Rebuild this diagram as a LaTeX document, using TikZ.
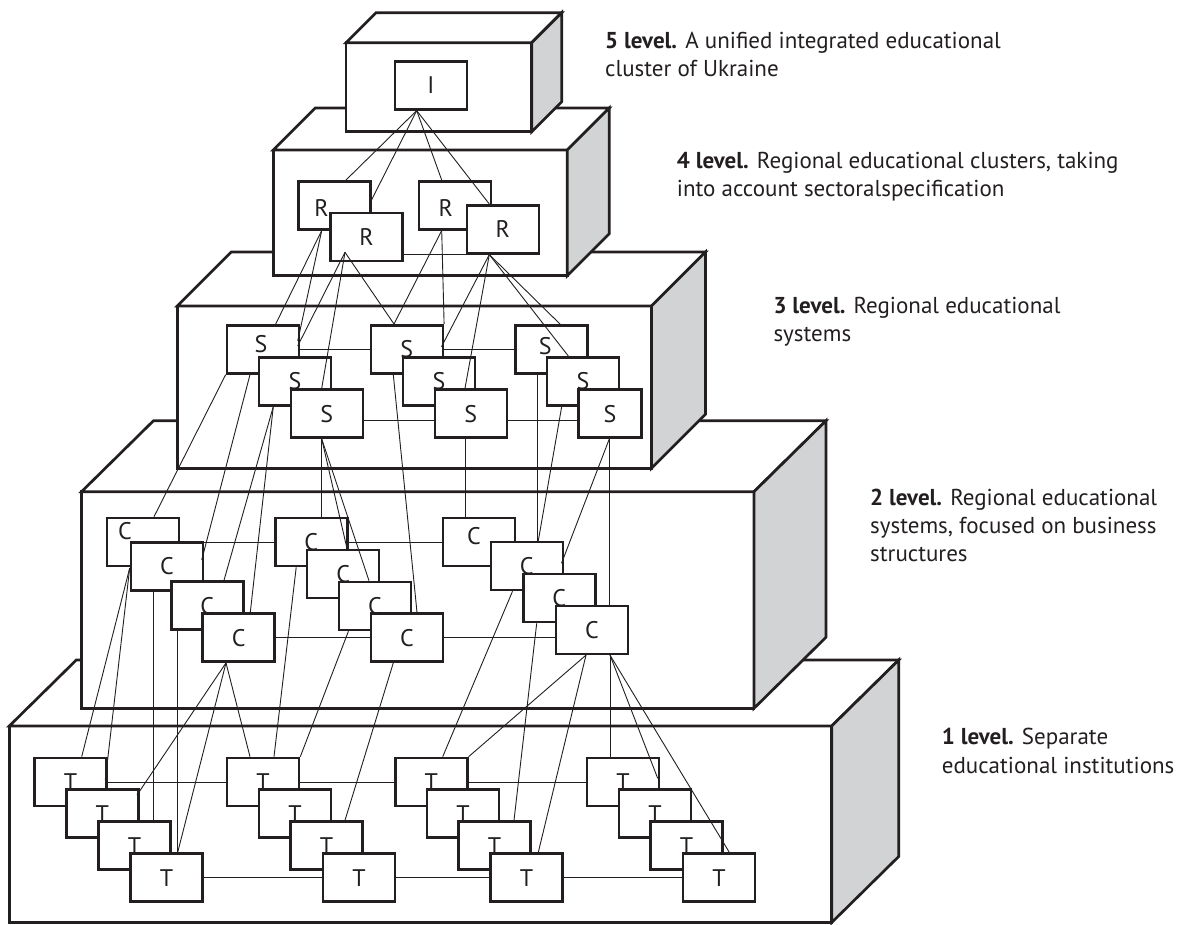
\documentclass[tikz,border=0pt]{standalone}
\usepackage{fontspec}
\setmainfont{PT Sans}
\usetikzlibrary{calc}
\definecolor{ink}{HTML}{231F20}
\definecolor{sidegray}{HTML}{D1D3D4}
% #1 left, #2 top, #3 right, #4 bottom of the front face, #5 #6 depth offsets
\newcommand{\levelbox}[6]{%
  \filldraw[frame] (#1,#2) rectangle (#3,#4);
  \filldraw[frame] (#1,#2) -- (#1+#5,#2-#6) -- (#3+#5,#2-#6) -- (#3,#2) -- cycle;
  \filldraw[frame,fill=sidegray] (#3,#2) -- (#3+#5,#2-#6) -- (#3+#5,#4-#6) -- (#3,#4) -- cycle;
}
\begin{document}
\begin{tikzpicture}[x=1pt,y=-1pt,
  frame/.style={draw=ink,fill=white,line width=2.7pt,line join=miter},
  box/.style={draw=ink,fill=white,line width=2.6pt,minimum width=72pt,minimum height=48pt,
    inner sep=0pt,anchor=north west,font=\fontsize{24pt}{24pt}\selectfont,text=ink},
  lab/.style={inner sep=0pt,font=\fontsize{24pt}{24pt}\selectfont,text=ink},
  link/.style={draw=ink,line width=0.9pt},
  lvl/.style={anchor=north west,inner sep=0pt,align=left,
    font=\fontsize{23pt}{28.3pt}\selectfont,text=ink}]
\useasboundingbox (0,0) rectangle (1181,924);

% ---- stacked level blocks (back to front)
\levelbox{9.3}{726}{831.7}{922.5}{67}{66}
\levelbox{81.5}{491.7}{754}{708.3}{72}{71}
\levelbox{177.3}{306}{651.5}{468.3}{54}{54}
\levelbox{273.3}{150}{567.3}{275.7}{42}{42}
\levelbox{346}{42.7}{531.7}{131.7}{30}{30}

% ---- level captions
\node[lvl] (txt5) at (605,31.7) {\textbf{5 level.} A unified integrated educational\\cluster of Ukraine};
\node[lvl] (txt4) at (676.7,151.7) {\textbf{4 level.} Regional educational clusters, taking\\into account sectoralspecification};
\node[lvl] (txt3) at (773.3,296.7) {\textbf{3 level.} Regional educational\\systems};
\node[lvl] (txt2) at (870,488.4) {\textbf{2 level.} Regional educational\\systems, focused on business\\structures};
\node[lvl] (txt1) at (941.7,728.4) {\textbf{1 level.} Separate\\educational institutions};

% ---- level 5
\node[box] (I) at (393.5,60) {I};
% ---- level 4
\node[box,label={[lab,shift={(-13,3)}]center:R}] (R1) at (297.3,180) {};
\node[box] (R2) at (329.3,211.7) {R};
\node[box,label={[lab,shift={(-9,3)}]center:R}] (R3) at (417.5,180) {};
\node[box] (R4) at (465.5,204) {R};
% ---- level 3
\node[box,label={[lab,shift={(-2,-5)}]center:S}] (S1) at (225.7,324) {};
\node[box] (S2) at (257.7,356) {S};
\node[box] (S3) at (289.5,388.3) {S};
\node[box] (S4) at (369.5,324) {S};
\node[box] (S5) at (401.7,356) {S};
\node[box] (S6) at (433.5,388.3) {S};
\node[box,label={[lab,shift={(-6,-3)}]center:S}] (S7) at (514,324) {};
\node[box] (S8) at (545.7,356) {S};
\node[box,minimum width=63pt] (S9) at (577.3,388.3) {S};
% ---- level 2
\node[box,label={[lab,shift={(-18,-11)}]center:C}] (C1) at (105.6,516.7) {};
\node[box] (C2) at (129.7,541) {C};
\node[box] (C3) at (170,580.3) {C};
\node[box] (C4) at (201.3,612.3) {C};
\node[box] (C5) at (274,516.7) {C};
\node[box] (C6) at (305.8,548.5) {C};
\node[box] (C7) at (337.6,580.7) {C};
\node[box] (C8) at (369.7,612.3) {C};
\node[box,label={[lab,shift={(-5,-6)}]center:C}] (C9) at (441.6,516.7) {};
\node[box] (C10) at (489.5,540.7) {C};
\node[box] (C11) at (522,572.7) {C};
\node[box] (C12) at (554.6,604.5) {C};
% ---- level 1
\node[box] (T1) at (33.3,756.7) {T};
\node[box] (T2) at (65,788.3) {T};
\node[box] (T3) at (97.3,820.3) {T};
\node[box] (T4) at (129.3,852.3) {T};
\node[box] (T5) at (225.7,756.7) {T};
\node[box] (T6) at (257.7,788.3) {T};
\node[box] (T7) at (289.3,820.3) {T};
\node[box] (T8) at (321.7,852.3) {T};
\node[box] (T9) at (394,756.7) {T};
\node[box] (T10) at (425.7,788.3) {T};
\node[box] (T11) at (457.3,820.3) {T};
\node[box] (T12) at (489.3,852.3) {T};
\node[box] (T13) at (585.7,756.7) {T};
\node[box] (T14) at (617.7,788.3) {T};
\node[box] (T15) at (649.3,820.3) {T};
\node[box] (T16) at (681.7,852.3) {T};

% ---- connector origins
\coordinate (Ib) at ($(I.south west)+(23.2,0)$);
\coordinate (R1b) at ($(R1.south west)+(24.4,0)$);
\coordinate (R2b) at ($(R2.north west)+(15.7,40.6)$);
\coordinate (R3b) at ($(R3.south west)+(24.2,0)$);
\coordinate (R4b) at ($(R4.south west)+(23.8,0)$);
\coordinate (S1b) at ($(S1.south west)+(24.3,0)$);
\coordinate (S2b) at ($(S2.south west)+(15.6,0)$);
\coordinate (S3b) at ($(S3.south west)+(32.2,0)$);
\coordinate (S4b) at ($(S4.south west)+(23.8,0)$);
\coordinate (S6b) at ($(S6.south west)+(31.5,0)$);
\coordinate (S7b) at ($(S7.south west)+(23.5,0)$);
\coordinate (S8b) at ($(S8.south west)+(16,0)$);
\coordinate (S9b) at ($(S9.south west)+(32,0)$);
\coordinate (C2l) at ($(C2.north west)+(0,27)$);
\coordinate (C2b) at ($(C2.south west)+(23.6,0)$);
\coordinate (C3b) at ($(C3.south west)+(7.7,0)$);
\coordinate (C4b) at ($(C4.south west)+(24.7,0)$);
\coordinate (C5b) at ($(C5.south west)+(22.2,0)$);
\coordinate (C7b) at ($(C7.south west)+(10.8,0)$);
\coordinate (C8b) at ($(C8.south west)+(23.6,0)$);
\coordinate (C10b) at ($(C10.south west)+(23,0)$);
\coordinate (C11b) at ($(C11.south west)+(14.7,0)$);
\coordinate (C12a) at ($(C12.south west)+(31.4,0)$);
\coordinate (C12b) at ($(C12.south west)+(55.4,0)$);

% ---- I to R
\draw[link] (Ib) -- ($(R1.north west)+(48.7,0)$);
\draw[link] (Ib) -- ($(R2.north west)+(40.7,-8.7)$);
\draw[link] (Ib) -- ($(R3.north west)+(24.2,0)$);
\draw[link] (Ib) -- ($(R4.north west)+(23.8,0)$);
\draw[link] (R4.south west -| R2.east) -- (R4.south west);

% ---- R to S
\draw[link] (R1b) -- ($(S1.north west)+(50,0)$);
\draw[link] (R1b) -- ($(S1.north west)+(72,17)$);
\draw[link] (R2b) -- ($(S1.north west)+(72,22)$);
\draw[link] (R2b) -- ($(S3.north west)+(32.2,0)$);
\draw[link] (R2b) -- ($(S4.north west)+(24.5,0)$);
\draw[link] (R3b) -- ($(S4.north west)+(24.5,0)$);
\draw[link] (R3b) -- (S4.north east);
\draw[link] (R4b) -- ($(S4.north west)+(72,22.7)$);
\draw[link] (R4b) -- ($(S6.north west)+(31.5,0)$);
\draw[link] (R4b) -- ($(S7.north west)+(46,0)$);
\draw[link] (R4b) -- ($(S8.north west)+(22.6,0)$);

% ---- S row links
\draw[link] (S1.east) -- (S4.west);
\draw[link] (S4.east) -- (S7.west);
\coordinate (S3r) at ($(S3.north east)+(0,32.4)$);
\coordinate (S6r) at ($(S6.north east)+(0,32.4)$);
\draw[link] (S3r) -- (S3r -| S6.west);
\draw[link] (S6r) -- (S6r -| S9.west);

% ---- S to C
\draw[link] (S1.south west) -- ($(C1.north west)+(48.4,0)$);
\draw[link] (S1b) -- ($(C2.north west)+(72,19)$);
\draw[link] (S2b) -- ($(C3.north west)+(54,0)$);
\draw[link] (S2b) -- ($(C4.north west)+(49,0)$);
\draw[link] (S3b) -- ($(C5.north west)+(47.7,0)$);
\draw[link] (S3b) -- ($(C6.north west)+(41.2,0)$);
\draw[link] (S3b) -- ($(C7.north west)+(31.4,0)$);
\draw[link] (S4b) -- ($(C8.north west)+(47.3,0)$);
\draw[link] (S6b) -- ($(C9.north west)+(23.4,0)$);
\draw[link] (S7b) -- ($(C10.north west)+(48,0)$);
\draw[link] (S8b) -- ($(C10.north west)+(48.8,0)$);
\draw[link] (S9b) -- ($(C10.north west)+(72,22.6)$);
\draw[link] (S9b) -- ($(C12.north west)+(54.7,0)$);

% ---- C row links
\draw[link] (C1.east) -- (C5.west);
\draw[link] (C5.east) -- (C9.west);
\draw[link] (C4.east) -- (C8.west);
\draw[link] (C8.east) -- (C8.east -| C12.west);

% ---- C to T
\draw[link] (C2l) -- ($(T1.north west)+(48.4,0)$);
\draw[link] (C2l) -- ($(T1.north west)+(72,23.3)$);
\draw[link] (C2b) -- ($(T3.north west)+(56,0)$);
\draw[link] (C3b) -- ($(T4.north west)+(48.4,0)$);
\draw[link] (C4b) -- ($(T2.north west)+(72,6.7)$);
\draw[link] (C4b) -- ($(T4.north west)+(48.4,0)$);
\draw[link] (C4b) -- ($(T5.north west)+(24.3,0)$);
\draw[link] (C5b) -- ($(T5.north west)+(48.3,0)$);
\draw[link] (C7b) -- (T5.north east);
\draw[link] (C8b) -- ($(T7.north west)+(55.7,0)$);
\draw[link] (C10b) -- ($(T9.north west)+(48.7,0)$);
\draw[link] (C11b) -- ($(T11.north west)+(56.7,0)$);
\draw[link] (C12a) -- (T9.north east);
\draw[link] (C12a) -- ($(T12.north west)+(49,0)$);
\draw[link] (C12b) -- ($(T13.north west)+(24.3,0)$);
\draw[link] (C12b) -- ($(T13.north west)+(72,21.6)$);
\draw[link] (C12b) -- ($(T16.north west)+(47.6,0)$);

% ---- T row links
\draw[link] (T1.east) -- (T5.west);
\draw[link] (T5.east) -- (T9.west);
\draw[link] (T9.east) -- (T13.west);
\draw[link] (T4.east) -- (T8.west);
\draw[link] (T8.east) -- (T12.west);
\draw[link] (T12.east) -- (T16.west);
\end{tikzpicture}
\end{document}
